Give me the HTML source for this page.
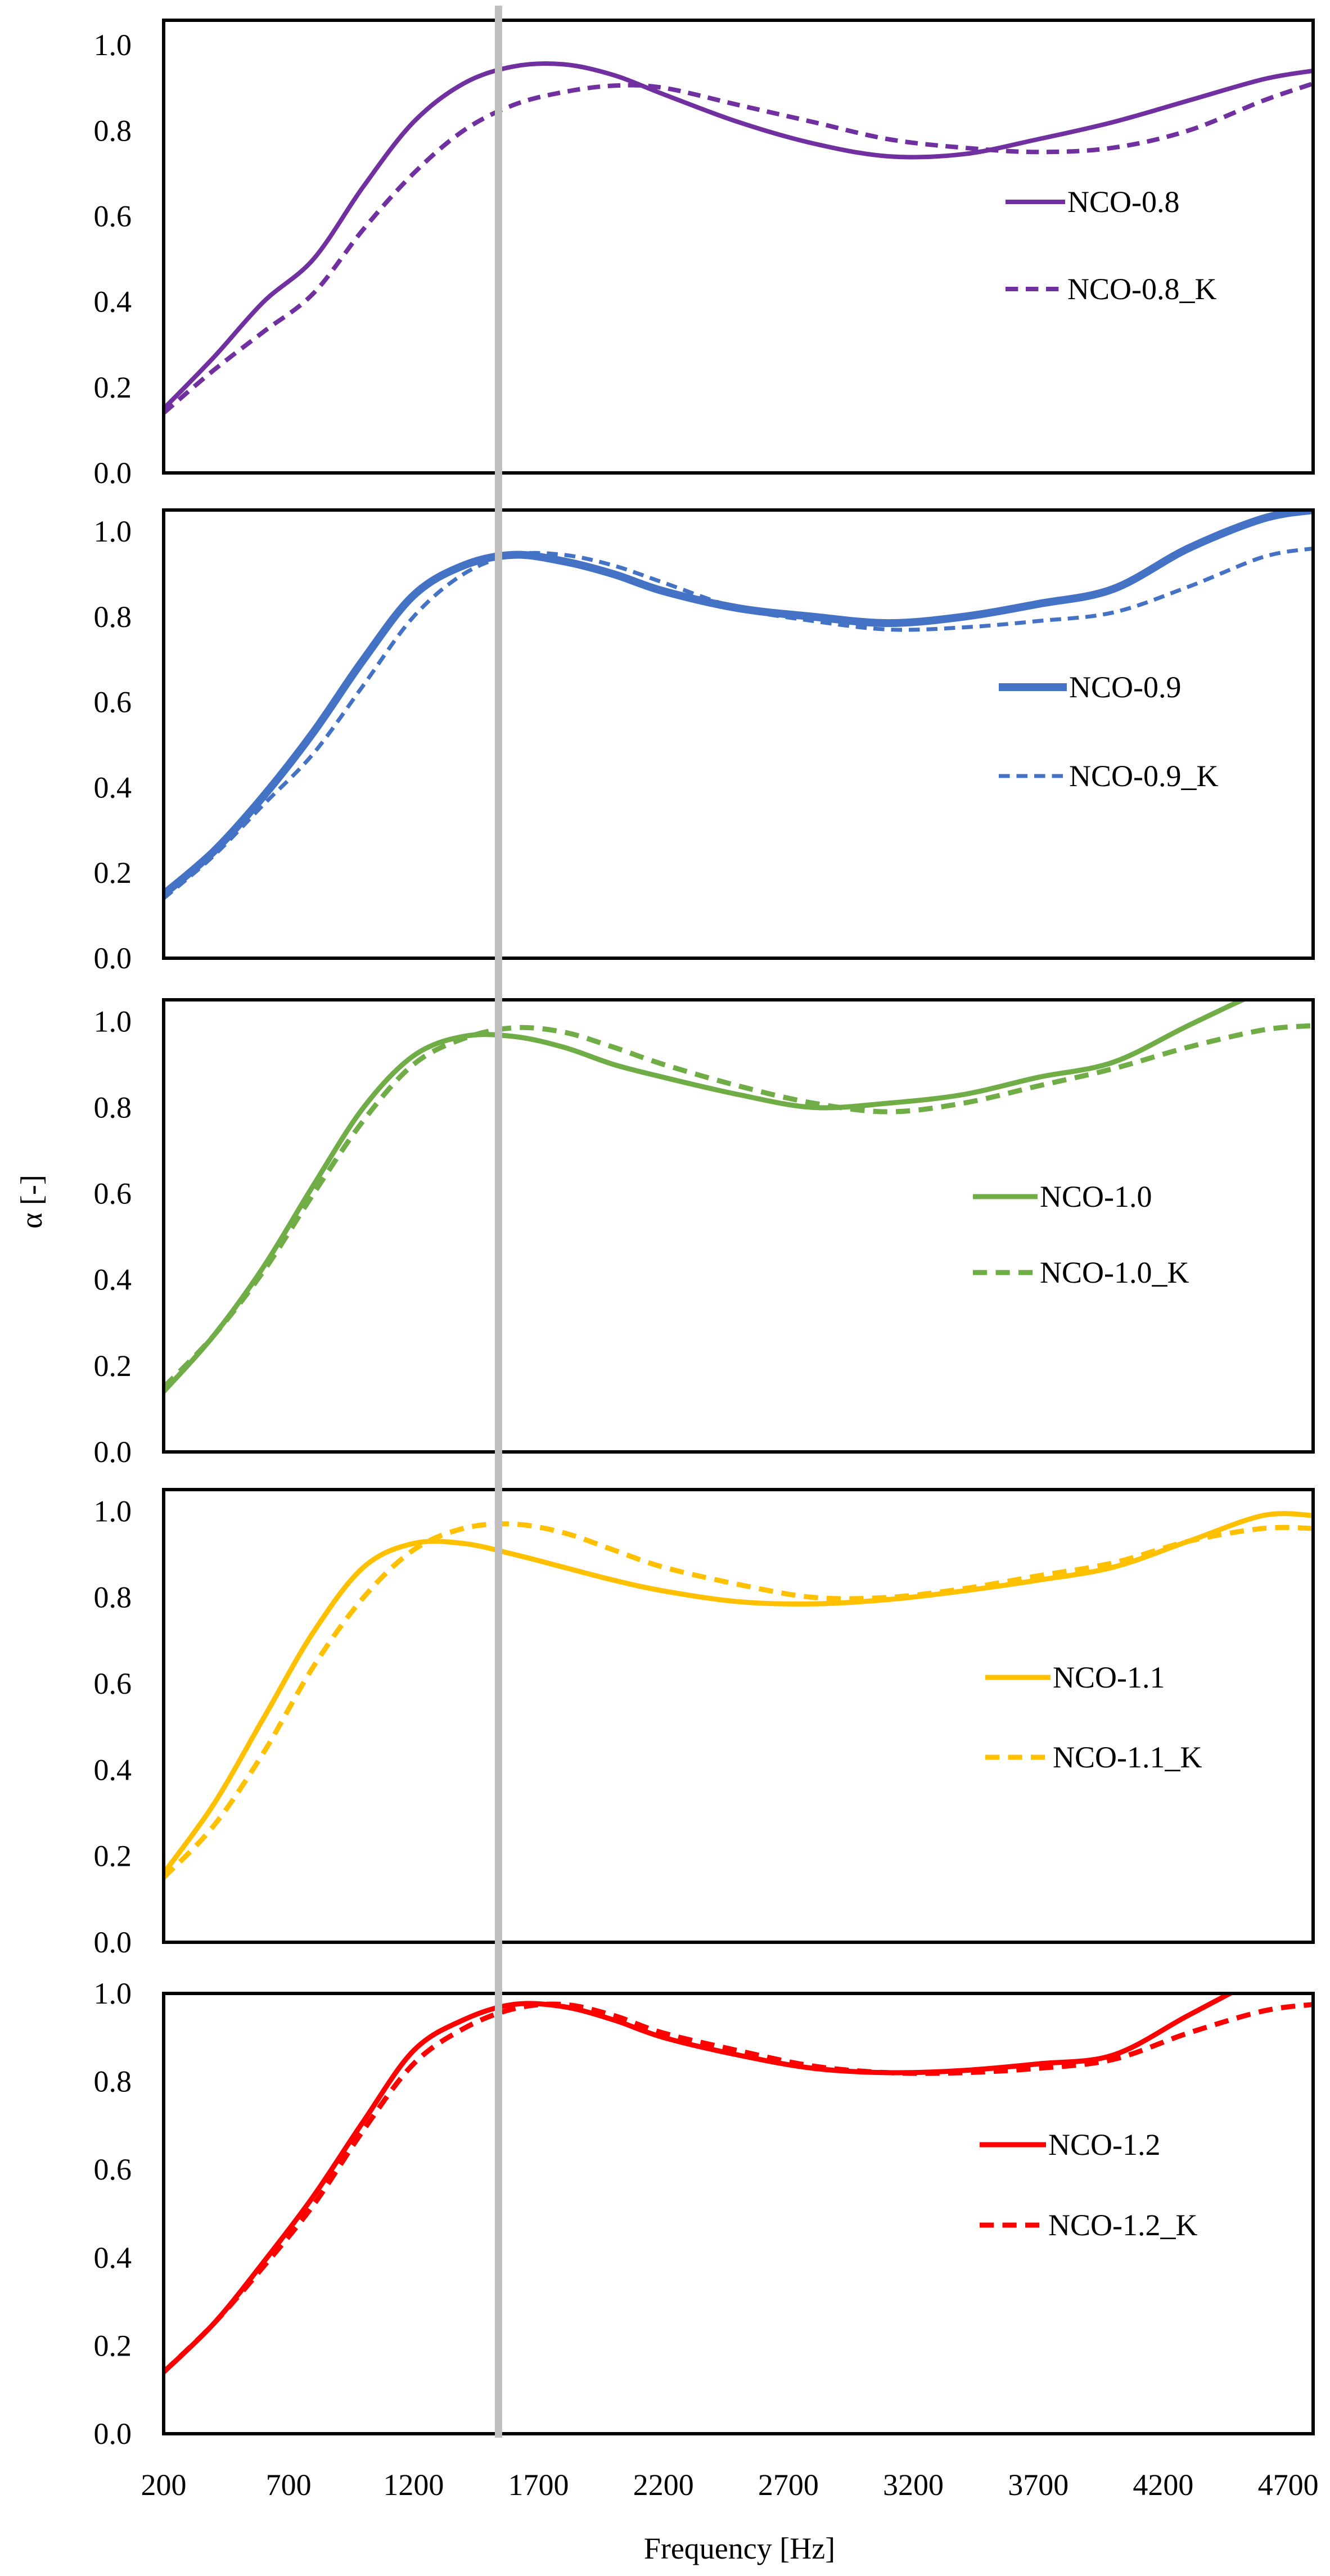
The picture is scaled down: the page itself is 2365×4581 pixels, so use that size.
<!DOCTYPE html>
<html><head><meta charset="utf-8"><style>
html,body{margin:0;padding:0;background:#fff;}
svg{display:block;}
text{font-family:"Liberation Serif",serif;fill:#000;}
</style></head><body>
<svg id="chart" width="2365" height="4581" viewBox="0 0 2365 4581" xmlns="http://www.w3.org/2000/svg">
<g id="root"></g>
</svg>
<script>
const freqs = [200,400,600,800,1000,1200,1400,1600,1800,2000,2200,2500,2800,3100,3400,3700,4000,4300,4600,4800];
const nco08   = [0.15,0.27,0.40,0.50,0.67,0.82,0.91,0.95,0.955,0.93,0.885,0.82,0.77,0.74,0.745,0.78,0.82,0.87,0.92,0.94];
const nco08K  = [0.14,0.24,0.33,0.42,0.57,0.70,0.80,0.86,0.89,0.905,0.90,0.86,0.82,0.78,0.76,0.75,0.76,0.80,0.87,0.91];
const nco09   = [0.15,0.25,0.38,0.53,0.70,0.85,0.92,0.945,0.93,0.90,0.86,0.82,0.80,0.785,0.80,0.83,0.865,0.96,1.03,1.05];
const nco09K  = [0.14,0.24,0.36,0.48,0.64,0.80,0.90,0.945,0.945,0.92,0.88,0.82,0.79,0.77,0.775,0.79,0.81,0.87,0.94,0.96];
const nco10   = [0.14,0.27,0.43,0.62,0.80,0.92,0.965,0.965,0.94,0.90,0.87,0.83,0.80,0.81,0.83,0.87,0.905,0.99,1.07,1.10];
const nco10K  = [0.15,0.27,0.42,0.60,0.77,0.90,0.96,0.985,0.975,0.94,0.90,0.85,0.81,0.79,0.81,0.85,0.89,0.94,0.98,0.99];
const nco11   = [0.16,0.32,0.52,0.72,0.87,0.925,0.925,0.90,0.87,0.84,0.815,0.79,0.785,0.795,0.815,0.84,0.87,0.93,0.99,0.99];
const nco11K  = [0.15,0.27,0.44,0.64,0.80,0.91,0.96,0.97,0.95,0.91,0.87,0.83,0.80,0.80,0.82,0.85,0.88,0.93,0.96,0.96];
const nco12   = [0.14,0.25,0.39,0.54,0.71,0.87,0.94,0.975,0.97,0.94,0.90,0.86,0.83,0.82,0.825,0.84,0.86,0.95,1.04,1.10];
const nco12K  = [0.14,0.25,0.38,0.52,0.69,0.84,0.92,0.965,0.975,0.95,0.91,0.87,0.835,0.82,0.82,0.83,0.85,0.91,0.96,0.975];
const yTicks = [0,0.2,0.4,0.6,0.8,1.0];
const xTicks = [200,700,1200,1700,2200,2700,3200,3700,4200,4700];
const markerFreq = 1540;

const NS="http://www.w3.org/2000/svg";
const root=document.getElementById('root');
const X0=291,X1=2335,F0=200,F1=4800;
function xs(f){return X0+(f-F0)/(F1-F0)*(X1-X0);}
function mk(tag,attrs,parent){const e=document.createElementNS(NS,tag);for(const k in attrs)e.setAttribute(k,attrs[k]);(parent||root).appendChild(e);return e;}

const panels=[
 {name:'nco-0.8',top:36,bot:841,ymax:1.058,color:'#7030A0',w:8,dw:8,s:nco08,d:nco08K,lab:'NCO-0.8',ly1:359,ly2:514,lx:1788,lw:106},
 {name:'nco-0.9',top:907,bot:1704,ymax:1.05,color:'#4472C4',w:14,dw:7,s:nco09,d:nco09K,lab:'NCO-0.9',ly1:1222,ly2:1380,lx:1776,lw:121},
 {name:'nco-1.0',top:1778,bot:2582,ymax:1.05,color:'#70AD47',w:9,dw:9,s:nco10,d:nco10K,lab:'NCO-1.0',ly1:2128,ly2:2263,lx:1730,lw:115},
 {name:'nco-1.1',top:2649,bot:3454,ymax:1.05,color:'#FFC000',w:9,dw:9,s:nco11,d:nco11K,lab:'NCO-1.1',ly1:2983,ly2:3125,lx:1752,lw:116},
 {name:'nco-1.2',top:3545,bot:4328,ymax:1.0,color:'#FF0000',w:9,dw:9,s:nco12,d:nco12K,lab:'NCO-1.2',ly1:3814,ly2:3957,lx:1742,lw:118}
];
function smooth(pts){let d='M'+pts[0][0]+','+pts[0][1];
 for(let i=0;i<pts.length-1;i++){const p0=pts[Math.max(0,i-1)],p1=pts[i],p2=pts[i+1],p3=pts[Math.min(pts.length-1,i+2)];
  const c1=[p1[0]+(p2[0]-p0[0])/6,p1[1]+(p2[1]-p0[1])/6],c2=[p2[0]-(p3[0]-p1[0])/6,p2[1]-(p3[1]-p1[1])/6];
  d+=' C'+c1[0].toFixed(1)+','+c1[1].toFixed(1)+' '+c2[0].toFixed(1)+','+c2[1].toFixed(1)+' '+p2[0].toFixed(1)+','+p2[1].toFixed(1);}
 return d;}
panels.forEach((p,i)=>{
 const ys=v=>p.bot-v/p.ymax*(p.bot-p.top);
 const g=mk('g',{});
 
 
 const cp=mk('clipPath',{id:'cp'+i},g);mk('rect',{x:X0,y:p.top,width:X1-X0,height:p.bot-p.top},cp);
 yTicks.forEach(t=>{const tx=mk('text',{x:234,y:ys(t)+18,'font-size':54,'text-anchor':'end'},g);tx.textContent=t.toFixed(1);
  
  });
 const ptsS=freqs.map((f,k)=>[xs(f),ys(p.s[k])]);
 const ptsD=freqs.map((f,k)=>[xs(f),ys(p.d[k])]);
 const dash=(p.dw*2.8)+' '+(p.dw*1.7);
 const ld=mk('path',{d:smooth(ptsD),fill:'none',stroke:p.color,'stroke-width':p.dw,'stroke-dasharray':dash,'clip-path':'url(#cp'+i+')'},g);
 
 
 const ls=mk('path',{d:smooth(ptsS),fill:'none',stroke:p.color,'stroke-width':p.w,'clip-path':'url(#cp'+i+')'},g);
 
 
 const fr=mk('rect',{x:X0,y:p.top,width:X1-X0,height:p.bot-p.top,fill:'none',stroke:'#000','stroke-width':6},g);
 
 
 const lg=mk('g',{},g);
 
 
 mk('line',{x1:p.lx,x2:p.lx+p.lw,y1:p.ly1,y2:p.ly1,stroke:p.color,'stroke-width':p.w},lg);
 mk('line',{x1:p.lx,x2:p.lx+p.lw,y1:p.ly2,y2:p.ly2,stroke:p.color,'stroke-width':p.dw,'stroke-dasharray':dash},lg);
 const t1=mk('text',{x:p.lx+p.lw+4,y:p.ly1+18,'font-size':54},lg);t1.textContent=p.lab;
 const t2=mk('text',{x:p.lx+p.lw+4,y:p.ly2+18,'font-size':54},lg);t2.textContent=p.lab+'_K';
});
xTicks.forEach(f=>{const t=mk('text',{x:xs(f),y:4437,'font-size':54,'text-anchor':'middle'});t.textContent=f;
 
 });
const vl=mk('line',{x1:xs(markerFreq),x2:xs(markerFreq),y1:10,y2:4335,stroke:'#BFBFBF','stroke-width':13});


const xt=mk('text',{x:1315,y:4550,'font-size':54,'text-anchor':'middle'});xt.textContent='Frequency [Hz]';


const yt=mk('text',{x:0,y:0,'font-size':54,'text-anchor':'middle',transform:'translate(74,2137) rotate(-90)'});yt.textContent='α [-]';


</script>
</body></html>
